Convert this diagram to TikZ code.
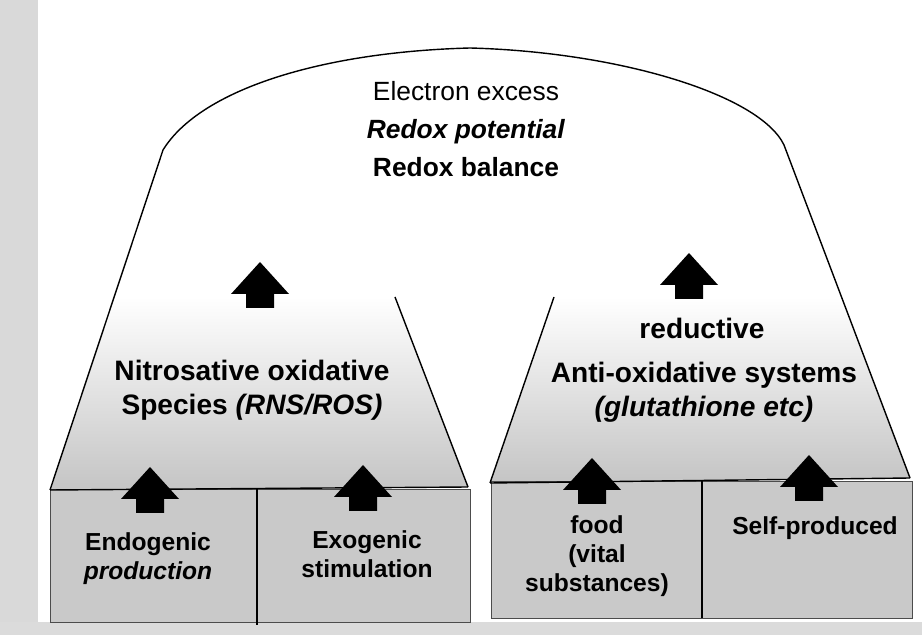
\documentclass[tikz,border=0pt]{standalone}
\usepackage{fontspec}
\setmainfont{Liberation Sans}
\usetikzlibrary{positioning}

\tikzset{
  outline/.style={line width=0.8pt, black},
  trapfill/.style={top color=white, middle color=gray!32, bottom color=gray!46},
  boxpart/.style={fill=gray!42, draw=black!70, line width=0.5pt},
  toplbl/.style={align=center, font=\fontsize{15}{21.5}\selectfont},
  traplbl/.style={align=center, font=\fontsize{16}{19.5}\selectfont\bfseries},
  boxlbl/.style={align=center, font=\fontsize{14}{16.5}\selectfont\bfseries},
  uparrow/.pic={\fill[black] (0,0) -- (29,32) -- (14,32) -- (14,46) -- (-14,46) -- (-14,32) -- (-29,32) -- cycle;}
}

\begin{document}
\begin{tikzpicture}[x=0.2mm, y=-0.2mm]
\useasboundingbox (0,0) rectangle (922,635);
% scan margins
\fill[gray!30] (0,0) rectangle (38,635);
\fill[gray!28] (0,622) rectangle (922,635);
% the two trapezoids, fading into the dome
\shade[trapfill] (50,490) -- (114,297) -- (395,297) -- (468,487) -- cycle;
\shade[trapfill] (490,483) -- (554,297) -- (841,297) -- (910,478) -- cycle;
% bottom boxes
\draw[boxpart] (50,489) rectangle (470,622);
\draw[boxpart] (491,481) rectangle (912,618);
\draw[outline] (50,490) -- (163,150) .. controls (200,90) and (320,52) .. (470,48)
  .. controls (620,52) and (760,95) .. (784,145) -- (910,478);
\draw[outline] (395,297) -- (468,487);
\draw[outline] (554,297) -- (490,483);
\draw[outline] (50,490) -- (468,487);
\draw[outline] (490,483) -- (910,478);
\draw[outline] (257,489) -- (257,625);
\draw[outline] (702,480) -- (702,618);
% arrows
\pic (arrNO) at (260,262) {uparrow};
\pic (arrAO) at (689,253) {uparrow};
\pic (arrEndo) at (150,467) {uparrow};
\pic (arrExo) at (363,465) {uparrow};
\pic (arrFood) at (592,458) {uparrow};
\pic (arrSelf) at (809,455) {uparrow};
% labels
\node[toplbl] (excess) at (466,129) {Electron excess\\ \textbf{\textit{Redox potential}}\\ \textbf{Redox balance}};
\node[traplbl] (nos) at (252,390) {Nitrosative oxidative\\ Species \textit{(RNS/ROS)}};
\node[traplbl] (red) at (702,328) {reductive};
\node[traplbl] (anti) at (704,392) {Anti-oxidative systems\\ \textit{(glutathione etc)}};
\node[boxlbl] (endo) at (148,559) {Endogenic\\ \textit{production}};
\node[boxlbl] (exo) at (367,554) {Exogenic\\ stimulation};
\node[boxlbl] (food) at (597,556) {food\\ (vital\\ substances)};
\node[boxlbl] (self) at (815,528) {Self-produced};
\end{tikzpicture}
\end{document}
